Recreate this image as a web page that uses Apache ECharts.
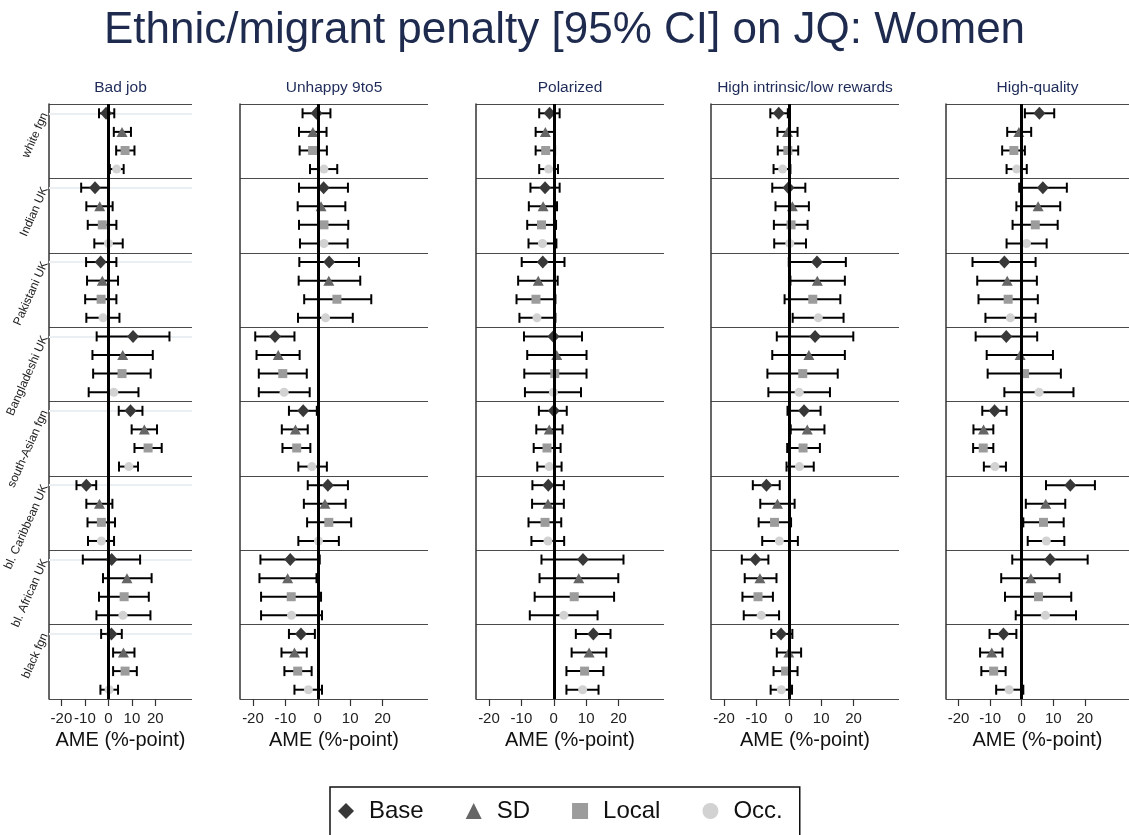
<!DOCTYPE html>
<html>
<head>
<meta charset="utf-8">
<script src="https://cdn.jsdelivr.net/npm/echarts@6/dist/echarts.min.js"></script>
<style>
html, body { margin: 0; padding: 0; background: #fff; }
#main { width: 1129px; height: 835px; }
</style>
</head>
<body>
<div id="main"></div>
<script>
// origin groups (rows of the panels) and model specifications
var groups = ['white fgn', 'Indian UK', 'Pakistani UK', 'Bangladeshi UK',
  'south-Asian fgn', 'bl. Caribbean UK', 'bl. African UK', 'black fgn'];
var models = ['Base', 'SD', 'Local', 'Occ.'];
var panels = ['Bad job', 'Unhappy 9to5', 'Polarized', 'High intrinsic/low rewards', 'High-quality'];
var ticks = [-20, -10, 0, 10, 20];

// AME in %-points, one row per group: Base, SD, Local, Occ.
var badJobEst = [[-1.0, 5.8, 7.1, 3.5], [-5.7, -3.7, -2.6, 0.0], [-3.3, -2.6, -3.1, -2.3], [10.5, 6.1, 5.8, 2.3],
  [9.4, 15.3, 16.9, 8.7], [-9.4, -3.8, -3.0, -3.0], [1.4, 7.9, 6.7, 6.2], [1.3, 6.4, 7.1, 0.3]];
var badJobLo = [[-4.0, 2.3, 3.3, 0.6], [-11.6, -9.4, -8.8, -6.0], [-9.5, -9.1, -9.9, -9.4], [-5.0, -6.8, -6.5, -8.4],
  [4.4, 9.9, 11.1, 4.5], [-13.6, -9.4, -8.9, -8.7], [-10.9, -2.3, -4.0, -5.1], [-3.1, 2.0, 2.0, -3.4]];
var badJobHi = [[2.5, 9.6, 11.1, 6.5], [0.2, 1.8, 3.4, 6.1], [3.4, 4.1, 3.4, 4.7], [26.0, 18.9, 18.0, 12.8],
  [14.5, 20.7, 22.7, 12.6], [-5.2, 1.7, 2.8, 2.4], [13.5, 18.4, 17.2, 17.9], [5.7, 11.1, 12.1, 4.1]];

var unhappyEst = [[-0.4, -1.5, -1.6, 1.9], [1.8, 1.0, 1.9, 1.9], [3.5, 3.4, 5.9, 2.4], [-13.2, -12.2, -10.8, -10.4],
  [-4.5, -6.9, -6.5, -1.8], [3.1, 2.2, 3.4, 0.2], [-8.5, -9.3, -8.2, -8.1], [-5.2, -7.2, -6.2, -2.9]];
var unhappyLo = [[-4.7, -5.8, -5.6, -2.4], [-5.8, -6.2, -5.8, -5.5], [-5.7, -5.9, -4.2, -6.1], [-19.3, -18.9, -18.2, -18.2],
  [-8.9, -11.1, -10.9, -6.0], [-3.1, -4.3, -3.3, -6.0], [-17.7, -18.0, -17.5, -17.5], [-8.9, -11.2, -10.3, -7.2]];
var unhappyHi = [[3.9, 2.7, 2.8, 6.0], [9.3, 8.5, 9.4, 9.2], [12.7, 13.1, 16.5, 10.8], [-7.2, -5.6, -3.4, -2.5],
  [-0.3, -3.1, -2.3, 2.8], [9.3, 8.6, 10.3, 6.5], [0.6, -0.4, 1.0, 1.3], [-0.9, -3.4, -1.9, 1.3]];

var polarEst = [[-1.3, -2.6, -2.5, -1.6], [-2.7, -3.3, -3.8, -3.5], [-3.4, -4.8, -5.5, -5.2], [-0.1, 0.9, 0.3, -0.1],
  [0.0, -1.4, -2.1, -1.4], [-1.7, -1.8, -2.7, -1.8], [9.0, 7.7, 6.3, 3.1], [12.2, 10.9, 9.5, 8.9]];
var polarLo = [[-4.5, -5.6, -5.6, -4.5], [-7.2, -7.7, -8.2, -7.8], [-9.9, -11.0, -11.5, -10.6], [-9.2, -8.2, -9.1, -8.9],
  [-4.6, -5.4, -6.2, -5.1], [-6.6, -6.7, -7.8, -6.9], [-3.8, -4.4, -5.9, -7.4], [6.8, 5.5, 3.9, 3.9]];
var polarHi = [[1.8, 0.3, 0.4, 1.3], [1.8, 1.0, 0.7, 0.8], [3.3, 1.2, 0.5, 0.5], [8.7, 10.1, 10.1, 8.4],
  [4.0, 2.7, 2.1, 2.4], [3.1, 3.1, 2.3, 3.2], [21.5, 19.9, 18.6, 13.5], [17.5, 16.2, 15.3, 13.8]];

var intrinsicEst = [[-3.1, -0.4, -0.3, -1.9], [-0.1, 1.1, 0.7, 0.3], [8.7, 8.8, 7.4, 9.1], [8.1, 6.2, 4.3, 3.2],
  [4.7, 5.7, 4.4, 3.3], [-6.9, -3.5, -4.4, -2.9], [-10.3, -8.9, -9.5, -8.5], [-2.4, 0.0, -1.0, -2.3]];
var intrinsicLo = [[-5.7, -3.5, -3.4, -4.7], [-5.1, -4.1, -4.6, -4.5], [0.0, 0.5, -1.3, 1.2], [-3.7, -5.1, -6.6, -6.3],
  [-0.4, 0.6, -0.5, -0.7], [-11.1, -8.8, -9.3, -8.2], [-14.5, -13.6, -14.3, -13.9], [-5.4, -3.7, -4.7, -5.6]];
var intrinsicHi = [[-0.3, 2.7, 2.9, 0.5], [5.1, 6.2, 5.8, 5.3], [17.6, 17.3, 15.9, 16.9], [19.9, 17.3, 15.1, 12.7],
  [9.8, 11.0, 9.6, 7.7], [-2.8, 1.8, 0.7, 2.8], [-6.3, -3.8, -4.9, -3.0], [1.1, 3.8, 2.7, 1.0]];

var hqEst = [[5.6, -0.9, -2.5, -1.6], [6.7, 5.2, 4.3, 1.5], [-5.5, -4.6, -4.3, -3.6], [-4.9, -0.5, 0.9, 5.5],
  [-8.6, -12.1, -12.2, -8.5], [15.4, 7.6, 6.9, 7.8], [9.0, 2.9, 5.3, 7.5], [-5.8, -9.5, -8.9, -4.0]];
var hqLo = [[1.0, -4.6, -6.2, -4.8], [-0.8, -1.7, -2.9, -4.8], [-15.6, -14.1, -13.7, -11.5], [-14.6, -11.1, -10.8, -5.5],
  [-12.5, -15.3, -15.4, -12.0], [7.7, 1.3, 0.5, 1.9], [-3.0, -6.5, -5.3, -1.9], [-10.2, -13.2, -12.8, -8.1]];
var hqHi = [[10.3, 3.0, 1.0, 1.6], [14.3, 12.2, 11.4, 7.9], [4.4, 4.8, 5.1, 4.4], [4.9, 9.9, 12.4, 16.4],
  [-4.8, -9.0, -9.0, -5.0], [23.2, 13.8, 13.3, 13.5], [20.9, 12.0, 15.7, 17.2], [-1.7, -6.1, -5.1, 0.5]];

var est = [badJobEst, unhappyEst, polarEst, intrinsicEst, hqEst];
var lo = [badJobLo, unhappyLo, polarLo, intrinsicLo, hqLo];
var hi = [badJobHi, unhappyHi, polarHi, intrinsicHi, hqHi];

// layout / style
var gridLeft = [49, 240, 476, 711, 946];
var gridWidth = [143, 188, 188, 188, 188];
var xMin = [-25.3, -24, -24, -24, -24];
var xMax = [35.6, 34, 34, 34, 34];
var symbols = ['diamond', 'triangle', 'rect', 'circle'];
var symbolSizes = [[12, 13], [11, 10], 9, 9];
var colors = ['#383838', '#666666', '#9c9c9c', '#d2d2d2'];
var font = 'Liberation Sans, Arial, sans-serif';

var rows = [];
groups.forEach(function (g) {
  models.forEach(function (m) { rows.push(g + '|' + m); });
});

var grid = [], xAxis = [], yAxis = [], series = [];

panels.forEach(function (title, p) {
  grid.push({ left: gridLeft[p], top: 104, width: gridWidth[p], height: 595 });

  xAxis.push({
    type: 'value', gridIndex: p, min: xMin[p], max: xMax[p], position: 'bottom',
    axisLine: { onZero: false, lineStyle: { color: '#333', width: 1.5 } },
    axisTick: { show: true, customValues: ticks, length: 7, lineStyle: { color: '#333', width: 1.2 } },
    axisLabel: { customValues: ticks, fontSize: 15, margin: 12, color: '#222', fontFamily: font },
    splitLine: { show: false },
    name: 'AME (%-point)', nameLocation: 'middle', nameGap: 31,
    nameTextStyle: { fontSize: 20, color: '#111', fontFamily: font }
  });
  xAxis.push({
    type: 'value', gridIndex: p, min: xMin[p], max: xMax[p], position: 'top',
    axisLine: { show: false }, axisTick: { show: false }, axisLabel: { show: false },
    splitLine: { show: false },
    name: title, nameLocation: 'middle', nameGap: 8,
    nameTextStyle: { fontSize: 15.5, color: '#1e2b58', fontFamily: font }
  });

  yAxis.push({
    type: 'category', gridIndex: p, data: rows, inverse: true,
    axisLine: { show: true, onZero: false, lineStyle: { color: '#333', width: 1.5 } },
    axisTick: { show: false },
    splitLine: { show: true, interval: 3, lineStyle: { color: '#4a4a4a', width: 1.2 } },
    axisLabel: {
      show: p === 0, interval: 3, rotate: 66, margin: 4, fontSize: 12,
      color: '#222', fontFamily: font,
      formatter: function (v) { return v.split('|')[0]; }
    }
  });

  // confidence intervals: [lo, hi, row index]
  var ciData = [];
  rows.forEach(function (r, i) {
    ciData.push([lo[p][Math.floor(i / 4)][i % 4], hi[p][Math.floor(i / 4)][i % 4], i]);
  });
  series.push({
    type: 'custom', xAxisIndex: 2 * p, yAxisIndex: p, z: 2,
    data: ciData, encode: { x: [0, 1], y: 2 },
    renderItem: function (params, api) {
      var a = api.coord([api.value(0), api.value(2)]);
      var b = api.coord([api.value(1), api.value(2)]);
      var h = 5;
      var st = { stroke: '#000', lineWidth: 2 };
      return {
        type: 'group',
        children: [
          { type: 'line', shape: { x1: a[0], y1: a[1], x2: b[0], y2: b[1] }, style: st },
          { type: 'line', shape: { x1: a[0], y1: a[1] - h, x2: a[0], y2: a[1] + h }, style: st },
          { type: 'line', shape: { x1: b[0], y1: b[1] - h, x2: b[0], y2: b[1] + h }, style: st }
        ]
      };
    }
  });

  // point estimates
  models.forEach(function (m, s) {
    var d = [];
    groups.forEach(function (g, gi) { d.push([est[p][gi][s], gi * 4 + s]); });
    var ser = {
      type: 'scatter', name: m, xAxisIndex: 2 * p, yAxisIndex: p, z: 3,
      symbol: symbols[s], symbolSize: symbolSizes[s],
      itemStyle: { color: colors[s], opacity: 1 },
      data: d
    };
    if (s === 1) {
      // zero reference line, drawn over the markers
      ser.markLine = {
        silent: true, symbol: 'none', label: { show: false }, animation: false,
        lineStyle: { color: '#000', width: 3, type: 'solid' },
        data: [{ xAxis: 0 }]
      };
    }
    if (p === 0 && s === 0) {
      ser.markLine = {
        silent: true, symbol: 'none', z: 1, label: { show: false }, animation: false,
        lineStyle: { color: '#eaeff4', width: 2, type: 'solid' },
        data: groups.map(function (g, gi) { return { yAxis: gi * 4 }; })
      };
    }
    series.push(ser);
  });
});

var chart = echarts.init(document.getElementById('main'));
chart.setOption({
  animation: false,
  backgroundColor: '#fff',
  textStyle: { fontFamily: font },
  title: {
    text: 'Ethnic/migrant penalty [95% CI] on JQ: Women',
    left: 'center', top: 4,
    textStyle: { fontSize: 44, fontWeight: 'normal', color: '#1e2b4f', fontFamily: font }
  },
  legend: {
    data: models, left: 330, top: 787, orient: 'horizontal',
    itemWidth: 16, itemHeight: 16, itemGap: 42,
    padding: [12, 17, 30, 8],
    borderColor: '#111', borderWidth: 1.5,
    textStyle: { fontSize: 24, color: '#111', fontFamily: font, padding: [0, 0, 0, 10] }
  },
  grid: grid,
  xAxis: xAxis,
  yAxis: yAxis,
  series: series
});
</script>
</body>
</html>
